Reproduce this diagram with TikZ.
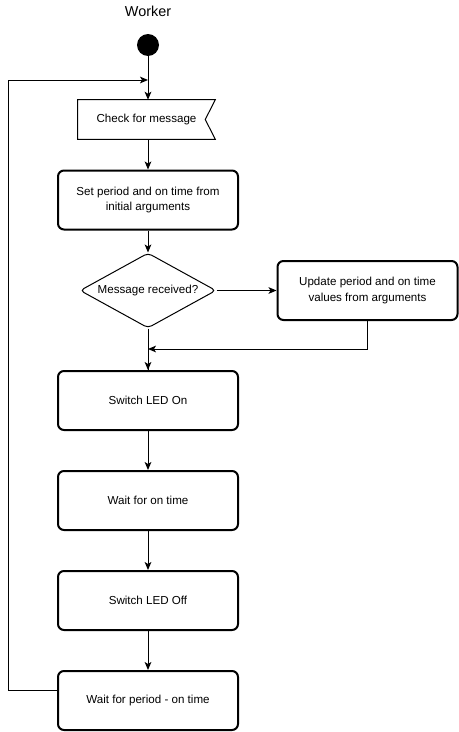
\documentclass[tikz,border=0pt]{standalone}
\usepackage{fontspec}
\setmainfont{Liberation Sans}
\usepackage{tikz}
\usetikzlibrary{positioning}
\usetikzlibrary{arrows.meta,shapes.geometric}

\begin{document}
\begin{tikzpicture}
                [x=0.75pt, y=-0.75pt,
                 box/.style = {draw, line width=1.5pt, rounded corners=4.5pt, minimum width=135pt, minimum height=44.25pt, align=center, font=\fontsize{8.7}{11.5}\selectfont},
                 flag/.style = {minimum width=102.75pt, minimum height=29.25pt, font=\fontsize{8.7}{11.5}\selectfont},
                 choice/.style = {draw, line width=0.75pt, diamond, aspect=1.8, inner sep=0pt, rounded corners=3pt, minimum width=102pt, minimum height=56.25pt, font=\fontsize{8.7}{11.5}\selectfont},
                 arr/.style = {line width=0.75pt, -{Stealth[length=6pt, width=5pt, inset=1.5pt]}}]
                \useasboundingbox (0,0) rectangle (459,732);
                % Title and start
                \node (title) at (148,11) {\fontsize{10.8}{12}\selectfont Worker};
                \node[circle, fill=black, minimum size=16.5pt, inner sep=0pt] (start) at (148,45) {};
                % Steps of the worker
                \node[flag] (check) at (146.5,119.5) {Check for message};
                \draw[line width=0.75pt] (check.north west) -- (check.north east) -- ([xshift=-7.5pt]check.east) -- (check.south east) -- (check.south west) -- cycle;
                \node[box] (setp) at (148,200) {Set period and on time from\\initial arguments};
                \node[choice] (msg) at (148,290.5) {Message received?};
                \node[box] (update) at (367.5,290.5) {Update period and on time\\values from arguments};
                \node[box] (ledon) at (148,400.5) {Switch LED On};
                \node[box] (waiton) at (148,500.5) {Wait for on time};
                \node[box] (ledoff) at (148,600.5) {Switch LED Off};
                \node[box] (waitp) at (148,700.5) {Wait for period - on time};
                % Corners of the lines
                \coordinate (join) at (148,349);
                \coordinate (loopb) at (8,690);
                \coordinate (loopt) at (8,80);
                % Lines
                \draw[arr] (start) -- (start |- check.north);
                \draw[arr] (start |- check.south) -- (setp);
                \draw[arr] (setp) -- (msg);
                \draw[arr] (msg) -- (update);
                \draw[line width=0.75pt] (msg) -- (ledon);
                \draw[arr] (update.south) |- (join);
                \draw[arr] (join) -- (ledon);
                \draw[arr] (ledon) -- (waiton);
                \draw[arr] (waiton) -- (ledoff);
                \draw[arr] (ledoff) -- (waitp);
                \draw[arr] (waitp.west |- loopb) -- (loopb) -- (loopt) -- (start |- loopt);
            \end{tikzpicture}
\end{document}
